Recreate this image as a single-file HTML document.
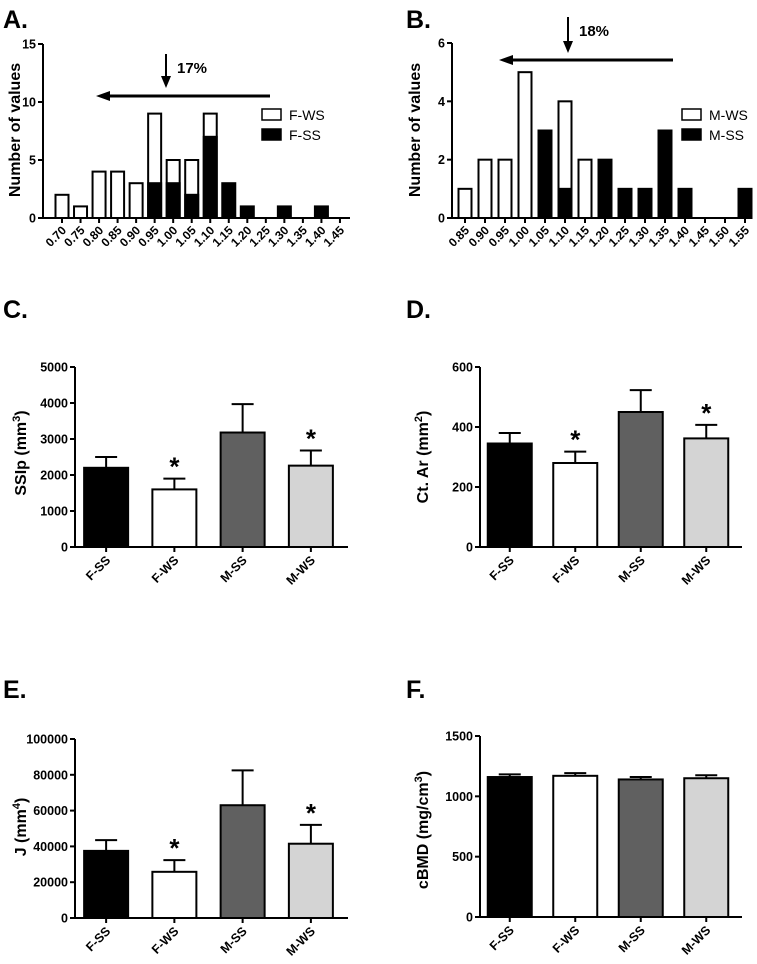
<!DOCTYPE html>
<html><head><meta charset="utf-8"><style>
body{margin:0;background:#fff;}
svg{display:block;font-family:"Liberation Sans",Arial,sans-serif;font-weight:bold;}
</style></head><body>
<svg id="fig" width="757" height="964" viewBox="0 0 757 964" xmlns="http://www.w3.org/2000/svg"></svg>
<script>
// ---- Histogram A data ----
const binsA = ["0.70","0.75","0.80","0.85","0.90","0.95","1.00","1.05","1.10","1.15","1.20","1.25","1.30","1.35","1.40","1.45"];
const fwsA = [2,1,4,4,3,9,5,5,9,0,0,0,0,0,0,0];
const fssA = [0,0,0,0,0,3,3,2,7,3,1,0,1,0,1,0];
const yTicksA = [0,5,10,15];
// ---- Histogram B data ----
const binsB = ["0.85","0.90","0.95","1.00","1.05","1.10","1.15","1.20","1.25","1.30","1.35","1.40","1.45","1.50","1.55"];
const mwsB = [1,2,2,5,0,4,2,0,0,0,0,0,0,0,0];
const mssB = [0,0,0,0,3,1,0,2,1,1,3,1,0,0,1];
const yTicksB = [0,2,4,6];
// ---- Bar charts ----
const groups = ["F-SS","F-WS","M-SS","M-WS"];
const ssipMean = [2200,1600,3180,2260];
const ssipErr = [300,300,790,420];
const ssipTicks = [0,1000,2000,3000,4000,5000];
const ctarMean = [345,280,450,362];
const ctarErr = [35,38,73,45];
const ctarTicks = [0,200,400,600];
const jMean = [37500,25800,63000,41500];
const jErr = [6000,6500,19500,10500];
const jTicks = [0,20000,40000,60000,80000,100000];
const bmdMean = [1160,1170,1140,1150];
const bmdErr = [22,22,20,25];
const bmdTicks = [0,500,1000,1500];
const starred = [false,true,false,true];
const barFills = ["#000","#fff","#606060","#d4d4d4"];

const NS="http://www.w3.org/2000/svg";
const svg=document.getElementById('fig');
function mk(tag,attrs,parent,text){const e=document.createElementNS(NS,tag);for(const k in attrs)e.setAttribute(k,attrs[k]);if(text!==undefined)e.textContent=text;(parent||svg).appendChild(e);return e;}

function panelLabel(txt,x,y){
  const t=mk('text',{x:x,y:y,'font-size':25},svg,txt);
  
  
}

function yAxis(g,ax,y0,yTop,ticks,max,title,tx,ty){
  const ys=v=>y0-(v/max)*(y0-yTop);
  const l=mk('line',{x1:ax,x2:ax,y1:y0,y2:yTop,stroke:'#000','stroke-width':2},g);
  
  
  ticks.forEach(v=>{
    mk('line',{x1:ax-5,x2:ax,y1:ys(v),y2:ys(v),stroke:'#000','stroke-width':2},g);
    const t=mk('text',{x:ax-7,y:ys(v)+4.5,'font-size':12.5,'text-anchor':'end'},g,String(v));
    
    
  });
  const tt=mk('text',{x:0,y:0,'font-size':16,'text-anchor':'middle',transform:`translate(${tx},${ty}) rotate(-90)`},g);
  tt.innerHTML=title;
  
  
  return ys;
}

function histogram(name,ax,axEnd,y0,yTop,x0,step,bins,white,black,ticks,max,arrow,legendNames,legX,ttlX){
  const g=mk('g',{},svg);
  
  
  const ys=yAxis(g,ax,y0,yTop,ticks,max,'Number of values',ttlX,130);
  const xs=i=>x0+i*step;
  bins.forEach((b,i)=>{
    if(white[i]>0){const r=mk('rect',{x:xs(i)-6.5,y:ys(white[i]),width:13,height:y0-ys(white[i]),fill:'#fff',stroke:'#000','stroke-width':2},g);
      
      }
  });
  bins.forEach((b,i)=>{
    if(black[i]>0){const r=mk('rect',{x:xs(i)-6.5,y:ys(black[i]),width:13,height:y0-ys(black[i]),fill:'#000',stroke:'#000','stroke-width':2},g);
      
      }
  });
  mk('line',{x1:ax,x2:axEnd,y1:y0,y2:y0,stroke:'#000','stroke-width':2},g);
  bins.forEach((b,i)=>{
    mk('line',{x1:xs(i),x2:xs(i),y1:y0,y2:y0+5,stroke:'#000','stroke-width':2},g);
    const t=mk('text',{x:0,y:0,'font-size':12,'text-anchor':'end',transform:`translate(${xs(i)+5},${y0+13}) rotate(-45)`},g,b);
    
    
  });
  const a=arrow;
  const h=mk('g',{},g);
  mk('line',{x1:a.hx1,x2:a.hx2+10,y1:a.hy,y2:a.hy,stroke:'#000','stroke-width':3},h);
  mk('polygon',{points:`${a.hx2},${a.hy} ${a.hx2+14},${a.hy-5} ${a.hx2+14},${a.hy+5}`,fill:'#000'},h);
  mk('line',{x1:a.dx,x2:a.dx,y1:a.dy1,y2:a.dy2-8,stroke:'#000','stroke-width':2},h);
  mk('polygon',{points:`${a.dx},${a.dy2} ${a.dx-5},${a.dy2-12} ${a.dx+5},${a.dy2-12}`,fill:'#000'},h);
  const pt=mk('text',{x:a.dx+11,y:a.dy1+19,'font-size':15},h,a.pct);
  
  
  legendNames.forEach((n,i)=>{
    const lg=mk('g',{},g);
    mk('rect',{x:legX,y:109+i*20,width:19,height:11,fill:i?'#000':'#fff',stroke:'#000','stroke-width':1.5},lg);
    mk('text',{x:legX+27,y:120+i*20,'font-size':14,'font-weight':'normal'},lg,n);
  });
}

function barChart(name,ax,y0,yTop,axEnd,means,errs,ticks,max,title,ttlX,ttlY){
  const g=mk('g',{},svg);
  
  
  const ys=yAxis(g,ax,y0,yTop,ticks,max,title,ttlX,ttlY);
  const step=(axEnd-ax)/4;
  const xc=i=>ax+step*(i+0.5)-3;
  groups.forEach((gr,i)=>{
    const top=ys(means[i]), et=ys(means[i]+errs[i]);
    const e=mk('g',{},g);
    mk('line',{x1:xc(i),x2:xc(i),y1:top,y2:et,stroke:'#000','stroke-width':2},e);
    mk('line',{x1:xc(i)-11,x2:xc(i)+11,y1:et,y2:et,stroke:'#000','stroke-width':2},e);
    const r=mk('rect',{x:xc(i)-22,y:top,width:44,height:y0-top,fill:barFills[i],stroke:'#000','stroke-width':2},g);
    
    
    if(starred[i] && title.indexOf('cBMD')<0){
      const s=mk('text',{x:xc(i),y:et-3,'font-size':26,'text-anchor':'middle'},g,'*');
      
      
    }
    mk('line',{x1:xc(i),x2:xc(i),y1:y0,y2:y0+5,stroke:'#000','stroke-width':2},g);
    const t=mk('text',{x:0,y:0,'font-size':12.5,'text-anchor':'end',transform:`translate(${xc(i)+5},${y0+14}) rotate(-45)`},g,gr);
    
    
  });
  mk('line',{x1:ax,x2:axEnd,y1:y0,y2:y0,stroke:'#000','stroke-width':2},g);
}

panelLabel('A.',3,28);
panelLabel('B.',406,28);
panelLabel('C.',3,318);
panelLabel('D.',406,318);
panelLabel('E.',3,698);
panelLabel('F.',406,698);

histogram('histogram-female',43,350,218,44,62,18.53,binsA,fwsA,fssA,yTicksA,15,
  {hx1:270,hx2:96,hy:96,dx:166,dy1:54,dy2:88,pct:'17%'},['F-WS','F-SS'],262,20);
histogram('histogram-male',452,752,218,43,465,20,binsB,mwsB,mssB,yTicksB,6,
  {hx1:673,hx2:499,hy:60,dx:568,dy1:17,dy2:53,pct:'18%'},['M-WS','M-SS'],682,420);

barChart('chart-ssip',75,547,367,348,ssipMean,ssipErr,ssipTicks,5000,'SSIp (mm<tspan baseline-shift="super" font-size="11">3</tspan>)',26,453);
barChart('chart-ct-ar',480,547,367,742,ctarMean,ctarErr,ctarTicks,600,'Ct. Ar (mm<tspan baseline-shift="super" font-size="11">2</tspan>)',428,457);
barChart('chart-j',75,918,739,348,jMean,jErr,jTicks,100000,'J (mm<tspan baseline-shift="super" font-size="11">4</tspan>)',26,827);
barChart('chart-cbmd',480,917,736,742,bmdMean,bmdErr,bmdTicks,1500,'cBMD (mg/cm<tspan baseline-shift="super" font-size="11">3</tspan>)',428,830);
</script>
</body></html>
